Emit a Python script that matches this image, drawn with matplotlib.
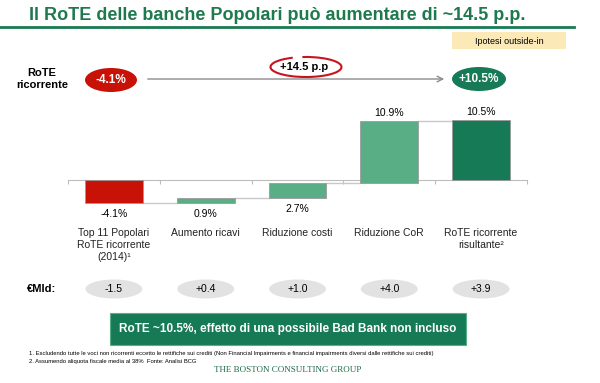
import matplotlib
matplotlib.use("Agg")
import matplotlib.pyplot as plt
import matplotlib.patches as mpatches
import matplotlib.transforms as mtransforms

plt.rcParams['font.family'] = ['Liberation Sans', 'DejaVu Sans']

# data
categories = ["Top 11 Popolari\nRoTE ricorrente\n(2014)¹", "Aumento ricavi",
              "Riduzione costi", "Riduzione CoR", "RoTE ricorrente\nrisultante²"]
start_value = -4.1
deltas = [0.9, 2.7, 10.9]
end_value = 10.5
bar_labels = ["-4.1%", "0.9%", "2.7%", "10.9%", "10.5%"]
mld_values = ["-1.5", "+0.4", "+1.0", "+4.0", "+3.9"]
rote_start = "-4.1%"
rote_end = "+10.5%"
uplift = "+14.5 p.p"

green_dark = "#177a56"
green_light = "#5aae85"
red = "#c81208"

fig = plt.figure(figsize=(6, 3.83), dpi=100)
# overlay in pixel coordinates
ax0 = fig.add_axes([0, 0, 1, 1])
ax0.set_xlim(0, 600)
ax0.set_ylim(383, 0)
ax0.axis("off")

# title
ax0.text(29, 15, "Il RoTE delle banche Popolari può aumentare di ~14.5 p.p.",
         fontsize=13, fontweight="bold", color="#1e7a4e", va="center", ha="left")
ax0.plot([0, 574], [27, 27], color="#1a7a50", lw=2)

# ipotesi box
ax0.add_patch(mpatches.Rectangle((452, 32), 114, 17, facecolor="#fce9b8", edgecolor="none"))
ax0.text(509, 41, "Ipotesi outside-in", fontsize=6.5, ha="center", va="center")

# RoTE row
ax0.text(42, 79, "RoTE\nricorrente", fontsize=8, fontweight="bold", ha="center", va="center",
         linespacing=1.3)
ax0.add_patch(mpatches.Ellipse((111, 80), 52, 24, facecolor=red, edgecolor="none"))
ax0.text(111, 80, rote_start, color="white", fontsize=8.5, fontweight="bold", ha="center", va="center")
ax0.add_patch(mpatches.Ellipse((479, 79), 54, 24, facecolor=green_dark, edgecolor="none"))
ax0.text(479, 79, rote_end, color="white", fontsize=8.5, fontweight="bold", ha="center", va="center")
ax0.annotate("", xy=(447, 79), xytext=(145, 79),
             arrowprops=dict(arrowstyle="->", color="#8c8c8c", lw=1))
ax0.add_patch(mpatches.Rectangle((272, 60), 66, 14, facecolor="white", edgecolor="none"))
ax0.text(304, 67, uplift, fontsize=8, fontweight="bold", ha="center", va="center")
ax0.add_patch(mpatches.Arc((306, 67), 71, 20, theta1=250, theta2=575, color="#c8141e", lw=1.5))

# waterfall axes: zero line at y=180 px, 5.71 px per point
ymin, ymax = -5, 12
ppu = 5.71
ax = fig.add_axes([68 / 600, (383 - 180 + ymin * ppu) / 383, 459 / 600, (ymax - ymin) * ppu / 383])
ax.set_xlim(-0.5, 4.5)
ax.set_ylim(ymin, ymax)
ax.patch.set_alpha(0)

bottoms = [0]
heights = [start_value]
level = start_value
for d in deltas:
    bottoms.append(level)
    heights.append(d)
    level += d
bottoms.append(0)
heights.append(end_value)
colors = [red, green_light, green_light, green_light, green_dark]
xs = list(range(len(categories)))
w = 0.63
ax.bar(xs, heights, bottom=bottoms, width=w, color=colors, edgecolor="#9a9a9a", linewidth=0.6, zorder=3)

# connectors
for i in range(len(xs) - 1):
    y = bottoms[i] + heights[i]
    ax.plot([i + w / 2, i + 1 - w / 2], [y, y], color="#c8c8c8", lw=1, zorder=2)

# value labels
for i, lab in enumerate(bar_labels):
    top = bottoms[i] + heights[i]
    lo = min(bottoms[i], top)
    hi = max(bottoms[i], top)
    if i < 3:
        ax.annotate(lab, (i, lo), xytext=(0, -4), textcoords="offset points",
                    ha="center", va="top", fontsize=7.5)
    else:
        ax.annotate(lab, (i, hi), xytext=(0, 2), textcoords="offset points",
                    ha="center", va="bottom", fontsize=7.5)

# zero line with ticks
for s in ["top", "right", "left"]:
    ax.spines[s].set_visible(False)
ax.spines["bottom"].set_position(("data", 0))
ax.spines["bottom"].set_color("#bdbdbd")
ax.spines["bottom"].set_linestyle((0, (1, 1)))
ax.set_xticks([x - 0.5 for x in range(len(xs) + 1)])
ax.set_xticklabels([])
ax.tick_params(axis="x", direction="out", length=3, color="#bdbdbd")
ax.set_yticks([])

# category labels and €Mld row
trans = mtransforms.blended_transform_factory(ax.transData, ax0.transData)
for i, c in enumerate(categories):
    ax.text(i, 228, c, transform=trans, ha="center", va="top", fontsize=7.5,
            color="#222222", linespacing=1.25)
    ax0.add_patch(mpatches.Ellipse((i, 289), 0.62, 19, transform=trans,
                                   facecolor="#e2e2e2", edgecolor="none"))
    ax.text(i, 289, mld_values[i], transform=trans, ha="center", va="center", fontsize=7.5)
ax0.text(42, 289, "€Mld:", fontsize=8, fontweight="bold", ha="center", va="center")

# bottom box
ax0.add_patch(mpatches.Rectangle((110, 313), 356, 32, facecolor=green_dark, edgecolor="#5aae85", lw=0.8))
ax0.text(288, 329, "RoTE ~10.5%, effetto di una possibile Bad Bank non incluso",
         color="white", fontsize=8.5, fontweight="bold", ha="center", va="center")

# footnotes
ax0.text(29, 354, "1. Escludendo tutte le voci non ricorrenti eccetto le rettifiche sui crediti "
         "(Non Financial Impairments e financial impairments diversi dalle rettifiche sui crediti)",
         fontsize=4.2, va="center")
ax0.text(29, 362, "2. Assumendo aliquota fiscale media al 38%  Fonte: Analisi BCG",
         fontsize=4.2, va="center")
ax0.text(288, 370, "THE BOSTON CONSULTING GROUP", family="Liberation Serif",
         fontsize=6.5, color="#1e6b46", ha="center", va="center")

fig.savefig("out.png", dpi=100)
